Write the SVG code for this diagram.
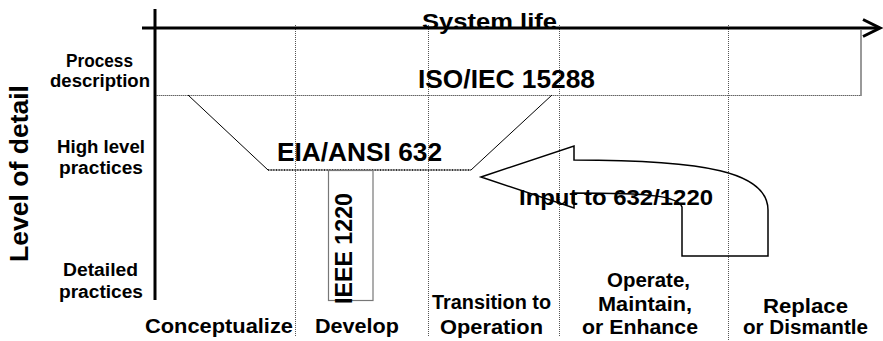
<svg xmlns="http://www.w3.org/2000/svg" width="883" height="341" viewBox="0 0 883 341">
<style>
text{font-family:"Liberation Sans",Arial,sans-serif;font-weight:bold;fill:#000;text-anchor:middle}
.lbl{font-size:18px}
.ph{font-size:20px}
.big{font-size:25px}
.dot{stroke:#555;stroke-width:1;stroke-dasharray:1,1;fill:none}
.axis{stroke:#000;stroke-width:3;fill:none}
</style>
<rect width="883" height="341" fill="#fff"/>
<g id="phase-dividers">
<line class="dot" x1="295.5" y1="25" x2="295.5" y2="336"/>
<line class="dot" x1="428.5" y1="25" x2="428.5" y2="336"/>
<line class="dot" x1="559.5" y1="25" x2="559.5" y2="336"/>
<line class="dot" x1="728.5" y1="25" x2="728.5" y2="341"/>
</g>
<g id="iso15288">
<line x1="155" y1="95.5" x2="861" y2="95.5" stroke="#666" stroke-width="1" stroke-dasharray="1.5,0.5"/>
<line x1="861" y1="30" x2="861" y2="96" stroke="#777" stroke-width="1.5"/>
<text class="big" x="506.5" y="88" textLength="177" lengthAdjust="spacingAndGlyphs">ISO/IEC 15288</text>
</g>
<g id="eia632">
<line x1="188" y1="95" x2="268" y2="170" stroke="#000" stroke-width="1"/>
<line x1="268" y1="170" x2="471" y2="170" stroke="#333" stroke-width="2" stroke-dasharray="1,0.6"/>
<line x1="471" y1="170" x2="552" y2="95" stroke="#000" stroke-width="1"/>
<text class="big" x="359.5" y="161" textLength="165" lengthAdjust="spacingAndGlyphs">EIA/ANSI 632</text>
</g>
<g id="ieee1220">
<rect x="328.5" y="170.5" width="44.5" height="130" fill="none" stroke="#777" stroke-width="1.2"/>
<text transform="translate(352,248.5) rotate(-90)" x="0" y="0" style="font-size:23px" textLength="111" lengthAdjust="spacingAndGlyphs">IEEE 1220</text>
</g>
<g id="input-arrow">
<path d="M481,177 L574,146 L574,160 C705,160 768,172 768,210 L768,256 L682,256 L682,207 C678,196 650,193 574,193 L574,208 Z" fill="none" stroke="#000" stroke-width="1.5" stroke-linejoin="miter"/>
<text x="616" y="205" style="font-size:22px" textLength="194" lengthAdjust="spacingAndGlyphs">Input to 632/1220</text>
</g>
<g id="connectors">
<line class="axis" x1="155" y1="9" x2="155" y2="300"/>
<line class="axis" x1="142" y1="28" x2="879" y2="28"/>
<polyline class="axis" points="863,19.5 880,28 863,36.5"/>
</g>
<g id="axis-labels">
<text x="489.5" y="29" style="font-size:22px" textLength="135" lengthAdjust="spacingAndGlyphs">System life</text>
<text transform="translate(28,173.5) rotate(-90)" x="0" y="0" style="font-size:26.5px" textLength="177" lengthAdjust="spacingAndGlyphs">Level of detail</text>
</g>
<g id="level-labels">
<text class="lbl" x="99.5" y="67" textLength="67" lengthAdjust="spacingAndGlyphs">Process</text>
<text class="lbl" x="100" y="87" textLength="100" lengthAdjust="spacingAndGlyphs">description</text>
<text class="lbl" x="101" y="153" textLength="88" lengthAdjust="spacingAndGlyphs">High level</text>
<text class="lbl" x="101" y="174" textLength="84" lengthAdjust="spacingAndGlyphs">practices</text>
<text class="lbl" x="100.5" y="276" textLength="75" lengthAdjust="spacingAndGlyphs">Detailed</text>
<text class="lbl" x="101" y="298" textLength="84" lengthAdjust="spacingAndGlyphs">practices</text>
</g>
<g id="phase-labels">
<text class="ph" x="219" y="333" textLength="148" lengthAdjust="spacingAndGlyphs">Conceptualize</text>
<text class="ph" x="357" y="333" textLength="84" lengthAdjust="spacingAndGlyphs">Develop</text>
<text class="ph" x="491.5" y="309" textLength="119" lengthAdjust="spacingAndGlyphs">Transition to</text>
<text class="ph" x="491.5" y="334" textLength="103" lengthAdjust="spacingAndGlyphs">Operation</text>
<text class="ph" x="648.5" y="287" textLength="83" lengthAdjust="spacingAndGlyphs">Operate,</text>
<text class="ph" x="645" y="311" textLength="94" lengthAdjust="spacingAndGlyphs">Maintain,</text>
<text class="ph" x="640" y="334" textLength="116" lengthAdjust="spacingAndGlyphs">or Enhance</text>
<text class="ph" x="805.5" y="313" textLength="85" lengthAdjust="spacingAndGlyphs">Replace</text>
<text class="ph" x="805.5" y="334" textLength="125" lengthAdjust="spacingAndGlyphs">or Dismantle</text>
</g>
</svg>
